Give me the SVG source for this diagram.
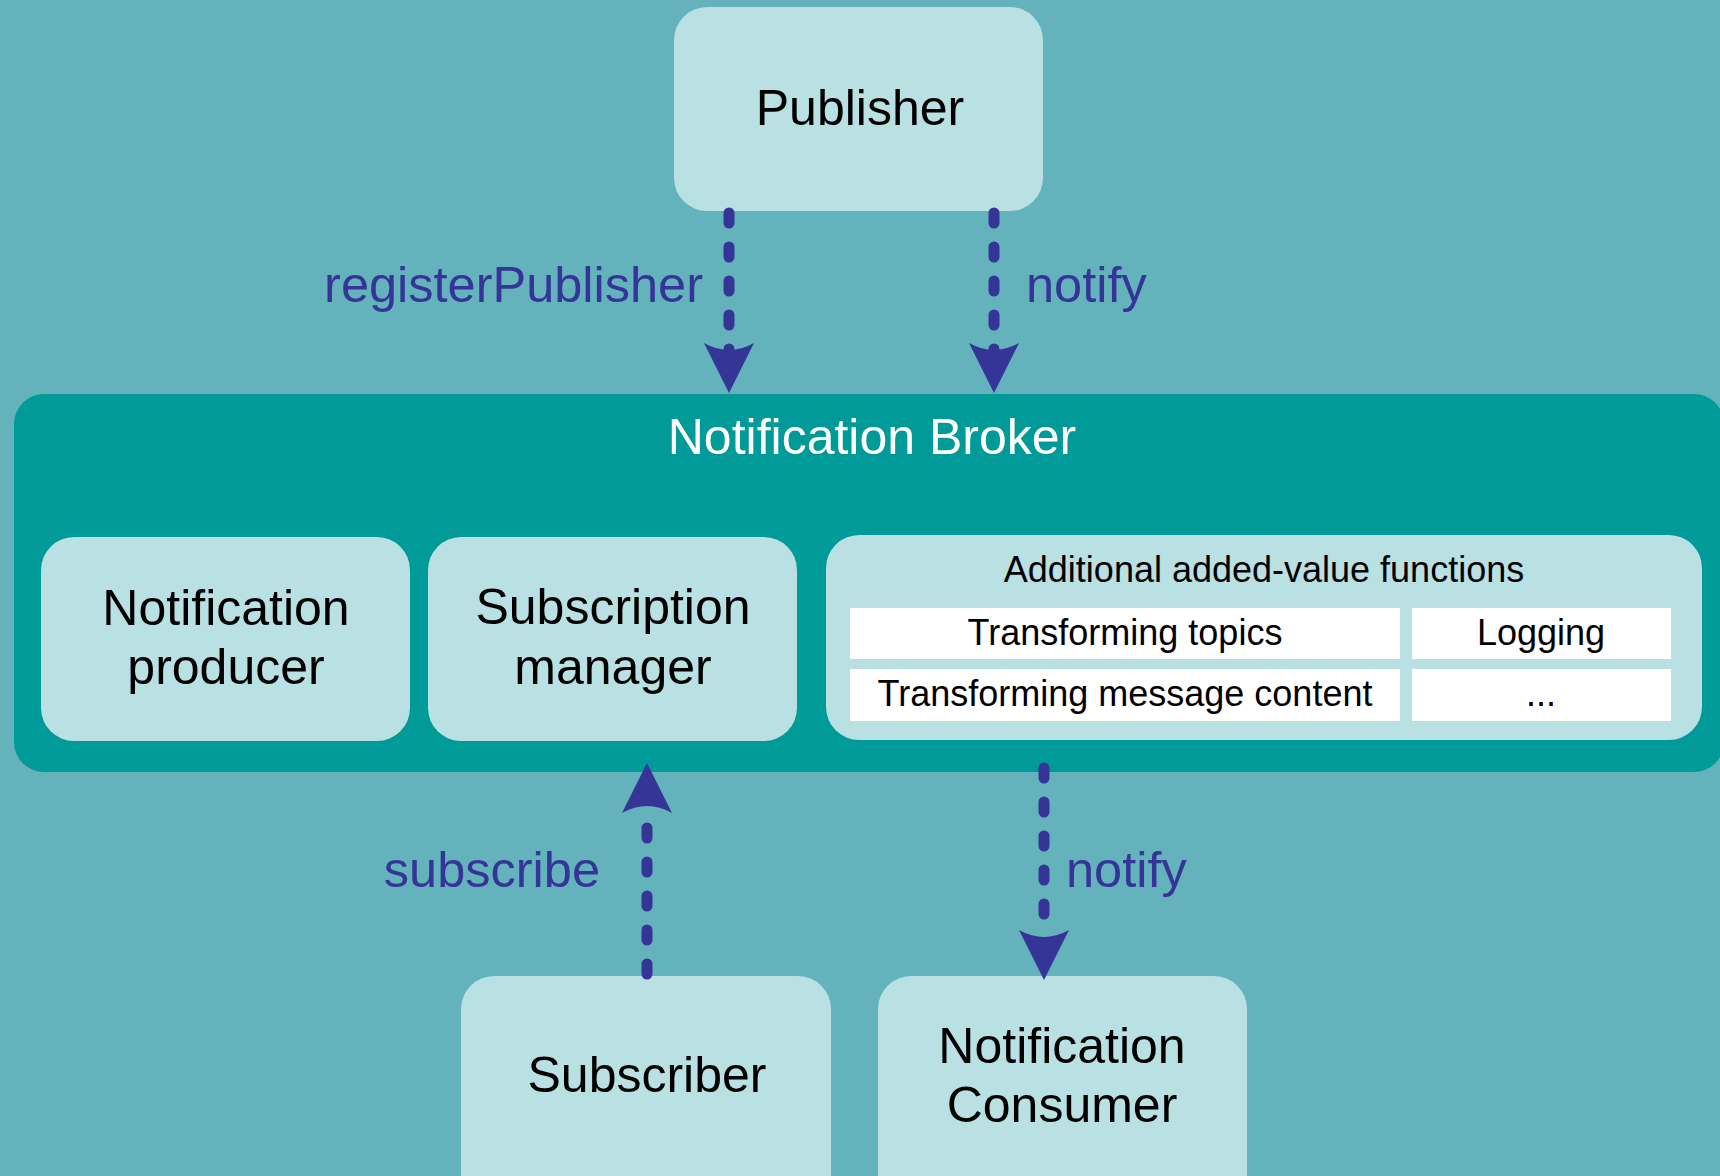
<svg xmlns="http://www.w3.org/2000/svg" width="1720" height="1176" viewBox="0 0 1720 1176">
<style>
.box{fill:#B9E0E3}
.t{font-family:"Liberation Sans",Arial,sans-serif;fill:#000;text-anchor:middle}
.big{font-size:50px}
.mid{font-size:36px}
.lbl{font-family:"Liberation Sans",Arial,sans-serif;font-size:50.5px;fill:#353598}
.cell{fill:#FFFFFF}
.conn{fill:none;stroke:#353598;stroke-width:11;stroke-linecap:round;stroke-dasharray:10 24}
</style>
<defs>
<marker id="ah" markerUnits="userSpaceOnUse" viewBox="0 -25 50 50" refX="7" refY="0" markerWidth="50" markerHeight="50" orient="auto">
<path d="M50,0 L0,-25 Q14,0 0,25 Z" fill="#353598"/>
</marker>
</defs>
<rect x="0" y="0" width="1720" height="1176" fill="#64B2BC"/>
<g id="broker">
<rect x="14" y="394" width="1710" height="378" rx="30" fill="#009A99"/>
<text x="872" y="454" class="t big" style="fill:#FFFFFF">Notification Broker</text>
</g>
<g id="publisher">
<rect class="box" x="674" y="7" width="369" height="204" rx="33"/>
<text x="860" y="125" class="t big">Publisher</text>
</g>
<g id="notification-producer">
<rect class="box" x="41" y="537" width="369" height="204" rx="33"/>
<text x="226" y="625" class="t big">Notification</text>
<text x="226" y="684" class="t big">producer</text>
</g>
<g id="subscription-manager">
<rect class="box" x="428" y="537" width="369" height="204" rx="33"/>
<text x="613" y="624" class="t big">Subscription</text>
<text x="613" y="684" class="t big">manager</text>
</g>
<g id="additional-functions">
<rect class="box" x="826" y="535" width="876" height="205" rx="33"/>
<text x="1264" y="582" class="t mid">Additional added-value functions</text>
<rect class="cell" x="850" y="608" width="550" height="51"/>
<rect class="cell" x="1412" y="608" width="259" height="51"/>
<rect class="cell" x="850" y="669" width="550" height="52"/>
<rect class="cell" x="1412" y="669" width="259" height="52"/>
<text x="1125" y="645" class="t mid">Transforming topics</text>
<text x="1541" y="645" class="t mid">Logging</text>
<text x="1125" y="706" class="t mid">Transforming message content</text>
<text x="1541" y="706" class="t mid">...</text>
</g>
<g id="subscriber">
<rect class="box" x="461" y="976" width="370" height="240" rx="33"/>
<text x="647" y="1092" class="t big">Subscriber</text>
</g>
<g id="notification-consumer">
<rect class="box" x="878" y="976" width="369" height="240" rx="33"/>
<text x="1062" y="1063" class="t big">Notification</text>
<text x="1062" y="1122" class="t big">Consumer</text>
</g>
<g id="connectors">
<path class="conn" d="M729,213 L729,350" marker-end="url(#ah)"/>
<path class="conn" d="M994,213 L994,350" marker-end="url(#ah)"/>
<path class="conn" d="M647,974 L647,806" marker-end="url(#ah)"/>
<path class="conn" d="M1044,768 L1044,937" marker-end="url(#ah)"/>
<text x="703" y="302" class="lbl" text-anchor="end">registerPublisher</text>
<text x="1026" y="302" class="lbl">notify</text>
<text x="600" y="887" class="lbl" text-anchor="end">subscribe</text>
<text x="1066" y="887" class="lbl">notify</text>
</g>
</svg>
